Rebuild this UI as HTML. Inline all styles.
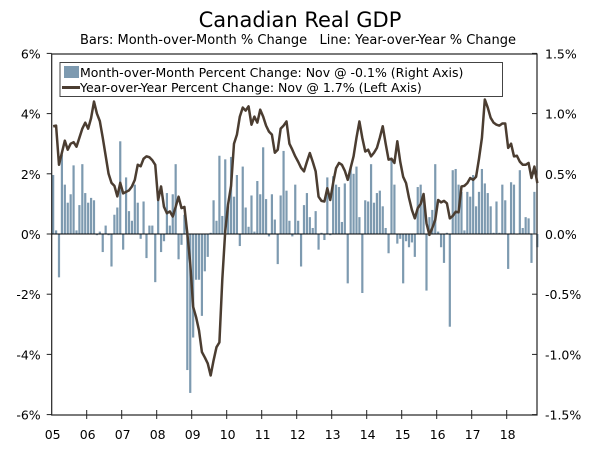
<!DOCTYPE html>
<html><head><meta charset="utf-8"><style>
html,body{margin:0;padding:0;background:#fff;}
svg{display:block;font-family:"DejaVu Sans","Liberation Sans",sans-serif;}
</style></head><body>
<svg id="chart" width="600" height="449" viewBox="0 0 600 449">
<text x="300" y="27" text-anchor="middle" font-size="21" fill="#000">Canadian Real GDP</text>
<text x="298" y="44" text-anchor="middle" font-size="13" fill="#000" xml:space="preserve">Bars: Month-over-Month % Change   Line: Year-over-Year % Change</text>
<g id="bars"></g>
<g id="axes"></g>
<g id="lineg"></g>
<g>
<rect x="60" y="62.5" width="442.5" height="34" fill="#fff" stroke="#444" stroke-width="1"/>
<rect x="64" y="66" width="15" height="12" fill="#7d9ab0"/>
<text x="80" y="77" font-size="12.5" fill="#000">Month-over-Month Percent Change: Nov @ -0.1% (Right Axis)</text>
<line x1="62" y1="87.5" x2="80" y2="87.5" stroke="#4b3d31" stroke-width="3"/>
<text x="80" y="92" font-size="12.5" fill="#000">Year-over-Year Percent Change: Nov @ 1.7% (Left Axis)</text>
</g>
</svg>
<script>
const years = ["05","06","07","08","09","10","11","12","13","14","15","16","17","18"];
const leftTicks = ["-6%","-4%","-2%","0%","2%","4%","6%"];
const leftTickValues = [-6,-4,-2,0,2,4,6];
const rightTicks = ["-1.5%","-1.0%","-0.5%","0.0%","0.5%","1.0%","1.5%"];
const rightTickValues = [-1.5,-1.0,-0.5,0,0.5,1.0,1.5];
const yoy = [3.58,3.6,2.3,2.7,3.1,2.8,3.0,3.05,2.9,3.2,3.5,3.7,
3.5,3.85,4.4,4.0,3.75,3.2,2.6,2.0,1.7,1.6,1.25,1.7,
1.35,1.4,1.45,1.58,1.8,2.3,2.25,2.5,2.58,2.55,2.45,2.3,
1.13,1.58,0.9,0.69,0.75,0.58,0.9,1.24,0.86,0.9,0.02,-0.98,
-2.42,-2.76,-3.2,-3.92,-4.1,-4.3,-4.7,-4.2,-3.76,-3.6,-1.5,0.1,
1.0,1.6,3.0,3.3,3.9,4.2,4.1,4.24,3.63,3.9,3.7,4.13,
3.9,3.6,3.4,3.3,2.7,2.8,3.5,3.6,3.74,3.0,2.8,2.58,
2.4,2.2,2.08,2.4,2.69,2.4,2.08,1.24,1.1,1.08,1.52,1.13,
1.7,2.19,2.36,2.3,2.1,1.8,2.2,2.58,3.2,3.74,3.19,2.74,
2.8,2.58,2.7,2.86,3.2,3.58,3.0,2.47,2.5,2.36,3.08,2.4,
1.9,1.69,1.2,0.8,0.52,0.86,1.0,1.33,0.36,-0.03,0.2,0.47,
1.13,1.05,1.1,1.02,0.52,0.6,0.74,0.72,1.58,1.6,1.69,1.86,
1.8,1.9,2.5,3.19,4.47,4.2,3.86,3.7,3.63,3.6,3.67,3.67,
2.86,3.0,2.58,2.6,2.4,2.3,2.3,2.36,1.86,2.24,1.69];
const mom = [0.49,0.03,-0.36,0.66,0.41,0.26,0.33,0.57,0.03,0.24,0.58,0.34,
0.26,0.30,0.28,-0.01,0.02,-0.15,0.07,-0.01,-0.27,0.16,0.22,0.77,
-0.13,0.47,0.19,0.11,0.41,0.26,-0.04,0.27,-0.2,0.07,0.07,-0.4,
0.34,-0.15,-0.06,0.34,0.07,0.33,0.58,-0.21,-0.09,0.16,-1.13,-1.32,
-0.86,-0.38,-0.38,-0.68,-0.31,-0.19,0.01,0.28,0.11,0.65,0.15,0.62,
0.23,0.64,0.31,0.49,-0.1,0.56,0.22,0.06,0.32,0.02,0.44,0.33,
0.72,0.29,-0.02,0.33,0.12,-0.25,0.32,0.69,0.36,0.11,-0.02,
0.41,0.11,-0.27,0.24,0.34,0.14,0.05,0.19,-0.13,0.01,
-0.05,0.47,-0.01,0.48,0.41,0.39,0.10,0.42,-0.41,0.55,
0.50,0.56,0.14,-0.49,0.28,0.27,0.58,0.26,0.34,0.36,
0.23,0.05,-0.16,0.62,0.41,-0.08,-0.04,-0.41,-0.06,-0.11,
-0.07,-0.19,0.39,0.41,0.31,-0.47,0.14,0.2,0.58,0.02,
-0.11,-0.24,0.01,-0.77,0.53,0.54,0.41,0.35,0.03,0.35,
0.31,0.49,0.23,0.35,0.54,0.42,0.34,0.23,0.01,0.27,
0.01,0.41,0.28,-0.29,0.43,0.41,0.00,0.53,0.05,0.14,
0.13,-0.24,0.35,-0.11];

const NS="http://www.w3.org/2000/svg";
const L=51.7, R=537, T=54, B=415, MW=35/12;
const xM = i => L + (i+0.5)*MW;
const xY = i => L + i*35;
const yL = v => 234 - v*30.1;
const yR = v => 234 - v*120.4;
function mk(tag, parent, attrs){const e=document.createElementNS(NS,tag);for(const k in attrs)e.setAttribute(k,attrs[k]);parent.appendChild(e);return e;}

const bars=document.getElementById('bars');
mom.forEach((v,i)=>{
  const y0=yR(0), y1=yR(v);
  const r=mk('rect',bars,{x:(xM(i)-1.1).toFixed(2),y:Math.min(y0,y1).toFixed(2),width:2.2,height:Math.max(0.6,Math.abs(y1-y0)).toFixed(2),fill:'#7d9ab0'});
  
  
});

const ax=document.getElementById('axes');
const frame=mk('rect',ax,{x:L,y:T,width:R-L,height:B-T,fill:'none',stroke:'#222','stroke-width':1.2});


const zl=mk('line',ax,{x1:L,x2:R,y1:yL(0),y2:yL(0),stroke:'#000','stroke-width':1});


leftTickValues.forEach((v,i)=>{
  const y=yL(v);
  mk('line',ax,{x1:L-5,x2:L,y1:y,y2:y,stroke:'#222'});
  const t=mk('text',ax,{x:L-11,y:y+5,'text-anchor':'end','font-size':12.5,fill:'#000'});
  t.textContent=leftTicks[i];
  
  
});
rightTickValues.forEach((v,i)=>{
  const y=yR(v);
  mk('line',ax,{x1:R-5,x2:R,y1:y,y2:y,stroke:'#222'});
  const t=mk('text',ax,{x:R+8,y:y+5,'text-anchor':'start','font-size':12.5,fill:'#000'});
  t.textContent=rightTicks[i];
  
  
});
years.forEach((lab,i)=>{
  if(i>0) mk('line',ax,{x1:xY(i),x2:xY(i),y1:B-5,y2:B+4,stroke:'#222'});
  const t=mk('text',ax,{x:xY(i)+1,y:439,'text-anchor':'middle','font-size':12.5,fill:'#000'});
  t.textContent=lab;
  
  
});

const lg=document.getElementById('lineg');
const d=yoy.map((v,i)=>(i?'L':'M')+xM(i).toFixed(2)+','+yL(v).toFixed(2)).join(' ');
const p=mk('path',lg,{d:d,fill:'none',stroke:'#4b3d31','stroke-width':2.5,'stroke-linejoin':'round'});


</script>
</body></html>
